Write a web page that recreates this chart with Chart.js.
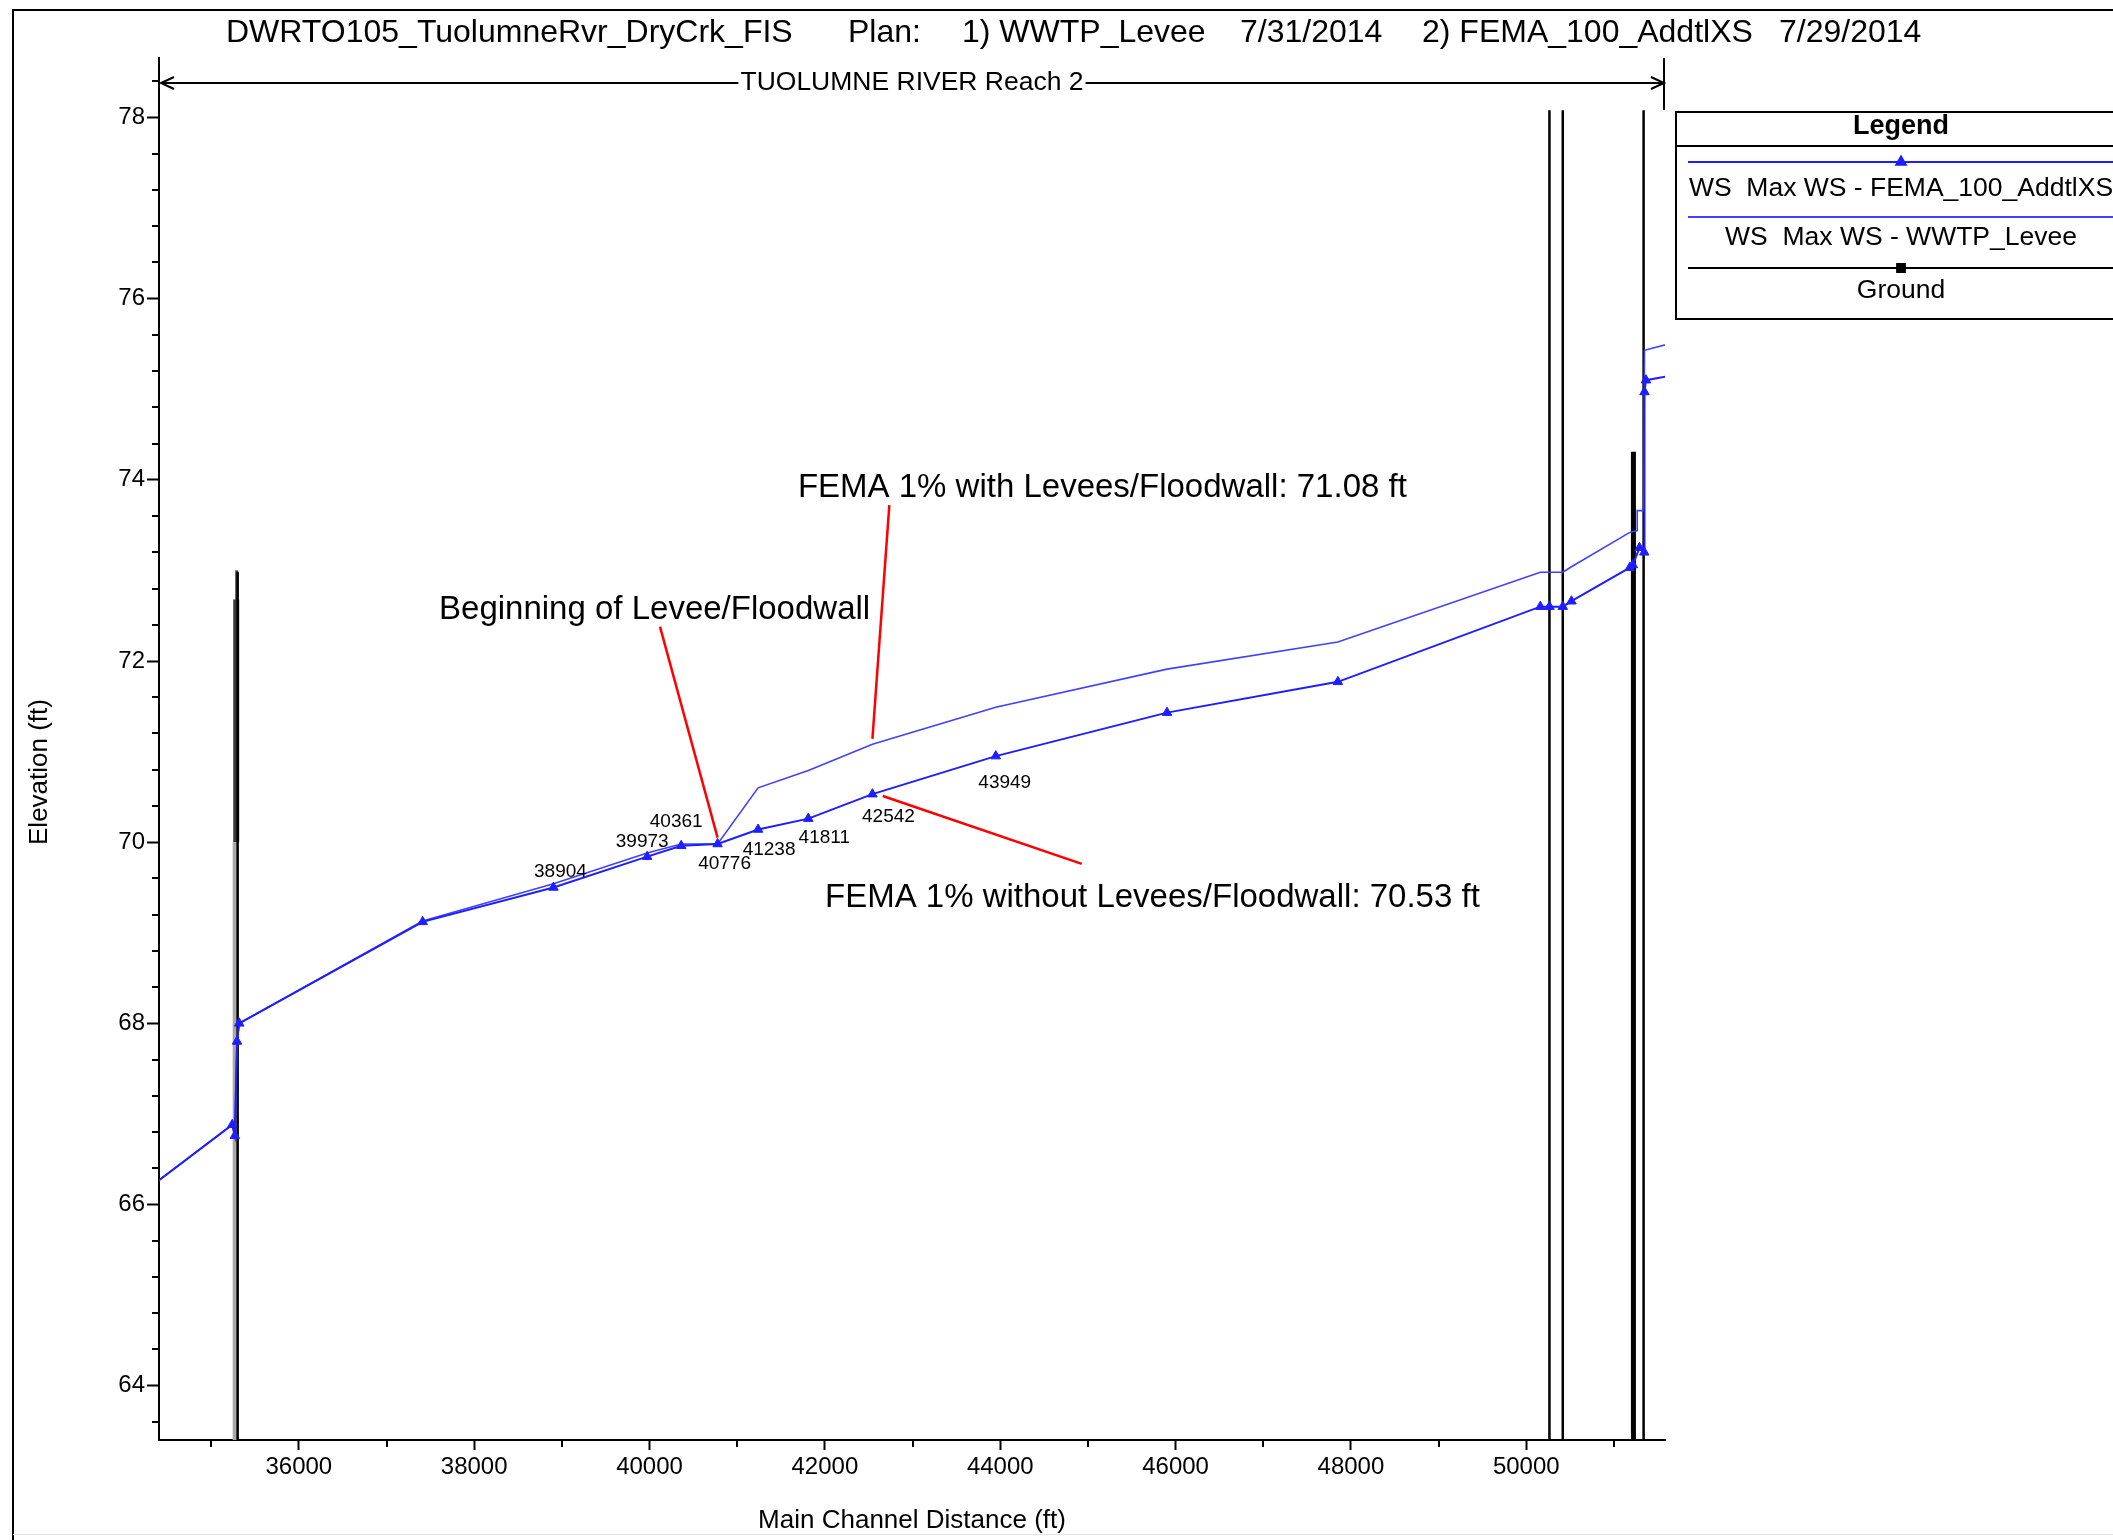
<!DOCTYPE html>
<html>
<head>
<meta charset="utf-8">
<title>DWRTO105 Tuolumne River Reach 2 profile</title>
<script src="https://cdn.jsdelivr.net/npm/chart.js@4.4.1/dist/chart.umd.min.js"></script>
<style>
  html, body { margin: 0; padding: 0; background: #fff; overflow: hidden; }
  #wrap { position: relative; width: 2113px; height: 1540px; }
  #profile { position: absolute; left: 0; top: 0; }
</style>
</head>
<body>
<div id="wrap"><canvas id="profile" width="2113" height="1540"></canvas></div>
<script>
// ---- Profile data (main channel distance in ft, elevation in ft) ----
// Max water surface, plan FEMA_100_AddtlXS (no levee/floodwall)
const fisStation = [34300, 35240, 35270, 35295, 35320, 37412, 38904, 39973, 40361, 40776,
                    41238, 41811, 42542, 43949, 45902, 47851, 50160, 50264, 50416, 50515,
                    51180, 51215, 51291, 51345, 51348, 51365, 51700];
const fisElev    = [66.19, 66.88, 66.76, 67.80, 68.00, 69.12, 69.50, 69.84, 69.96, 69.98,
                    70.14, 70.26, 70.53, 70.95, 71.43, 71.77, 72.60, 72.60, 72.60, 72.66,
                    73.03, 73.06, 73.25, 73.20, 74.97, 75.10, 75.16];

// Max water surface, plan WWTP_Levee (with levee/floodwall)
const leveeStation = [34300, 35240, 35270, 35295, 35320, 37412, 38904, 39973, 40361, 40776,
                      41238, 41811, 42542, 43949, 45902, 47851, 50160, 50264, 50416, 50515,
                      51180, 51265, 51265, 51340, 51348, 51700];
const leveeElev    = [66.19, 66.88, 66.76, 67.80, 68.00, 69.13, 69.54, 69.88, 69.98, 69.98,
                      70.60, 70.79, 71.08, 71.49, 71.91, 72.21, 72.98, 72.98, 72.98, 73.04,
                      73.42, 73.44, 73.66, 73.66, 75.43, 75.52];

// Ground: channel invert sits far below the plotted range; structures rise above it
const groundStation = [35302, 35302, 50264, 50264, 50416, 50416, 51338, 51338];
const groundElev    = [50.0, 72.98, 50.0, 78.08, 50.0, 78.08, 50.0, 78.08];
const pierStation = [51222, 51222];
const pierElev    = [50.0, 74.31];
const bankStation = [35274, 35274];
const bankElev    = [50.0, 70.00];
const crestStation = [35286, 35286];
const crestElev    = [70.00, 72.68];
const tipStation = [35292, 35292];
const tipElev    = [72.48, 73.00];

// Labelled river stations on the FEMA_100_AddtlXS profile
const stationLabels = ['38904', '39973', '40361', '40776', '41238', '41811', '42542', '43949'];

// Axis extents and tick spacing
const xMin = 34405, xMax = 51582;
const yMin = 63.40, yMax = 78.657;
const xTickStep = 1000, yTickStep = 0.4;

const titleParts = ['DWRTO105_TuolumneRvr_DryCrk_FIS', 'Plan:', '1) WWTP_Levee', '7/31/2014',
                    '2) FEMA_100_AddtlXS', '7/29/2014'];
const reachName = 'TUOLUMNE RIVER Reach 2';

// ---- styling / layout ----
const FONT = '"Liberation Sans", Arial, Helvetica, sans-serif';
Chart.defaults.font.family = FONT;
Chart.defaults.color = '#000';

const titleX = [226, 848, 962, 1240, 1422, 1779];
const labelOffsets = [[7, -16], [-5, -15], [-5, -24], [7, 20], [11, 20], [16, 19], [16, 23], [9, 27]];

const at = (xs, v) => xs.indexOf(v);
const callouts = [
  { text: 'Beginning of Levee/Floodwall', textAt: [37599, 72.56],
    from: [40119, 72.38], to: [40776, 70.05] },
  { text: 'FEMA 1% with Levees/Floodwall: ' + leveeElev[at(leveeStation, 42542)].toFixed(2) + ' ft',
    textAt: [41692, 73.91], from: [42735, 73.72], to: [42542, 71.14] },
  { text: 'FEMA 1% without Levees/Floodwall: ' + fisElev[at(fisStation, 42542)].toFixed(2) + ' ft',
    textAt: [42001, 69.39], from: [42660, 70.51], to: [44930, 69.76] }
];

const pairs = (xs, ys) => xs.map((x, i) => ({ x: x, y: ys[i] }));
const spikes = (xs, ys) => {
  const out = [];
  for (let i = 0; i < xs.length; i += 2) {
    out.push({ x: xs[i], y: ys[i] }, { x: xs[i + 1], y: ys[i + 1] }, { x: xs[i + 1], y: null });
  }
  return out;
};
const near = (v, step) => Math.abs(v / step - Math.round(v / step)) < 1e-6;
const isMajorX = v => near(v, 2000);
const isMajorY = v => near(v, 2);

// regular tick positions at whole multiples of the step
const tickValues = (lo, hi, step) => {
  const out = [];
  for (let k = Math.ceil(lo / step - 1e-9); k * step <= hi + 1e-9; k++) {
    out.push({ value: Math.round(k * step * 1000) / 1000 });
  }
  return out;
};

const FIS_BLUE = '#1e1eff';
const LEVEE_BLUE = '#4040ff';

const decor = {
  id: 'profileDecor',
  afterDatasetsDraw(chart) {
    const { ctx } = chart;
    const xs = chart.scales.x, ys = chart.scales.y;
    ctx.save();
    // red callout leaders and their notes
    callouts.forEach(c => {
      ctx.strokeStyle = '#ff0000';
      ctx.lineWidth = 2.5;
      ctx.beginPath();
      ctx.moveTo(xs.getPixelForValue(c.from[0]), ys.getPixelForValue(c.from[1]));
      ctx.lineTo(xs.getPixelForValue(c.to[0]), ys.getPixelForValue(c.to[1]));
      ctx.stroke();
      ctx.fillStyle = '#000';
      ctx.font = '33px ' + FONT;
      ctx.textAlign = 'left';
      ctx.textBaseline = 'middle';
      ctx.fillText(c.text, xs.getPixelForValue(c.textAt[0]), ys.getPixelForValue(c.textAt[1]));
    });
    // river station tags
    ctx.font = '19px ' + FONT;
    ctx.textAlign = 'center';
    ctx.textBaseline = 'middle';
    stationLabels.forEach((s, i) => {
      const st = Number(s);
      const el = fisElev[at(fisStation, st)];
      ctx.fillText(s, xs.getPixelForValue(st) + labelOffsets[i][0], ys.getPixelForValue(el) + labelOffsets[i][1]);
    });
    ctx.restore();
  },
  afterDraw(chart) {
    const { ctx, chartArea: a } = chart;
    const xs = chart.scales.x, ys = chart.scales.y;
    ctx.save();
    ctx.strokeStyle = '#000';
    ctx.fillStyle = '#000';

    // minor ticks
    ctx.lineWidth = 2;
    ctx.beginPath();
    xs.ticks.forEach(t => {
      if (!isMajorX(t.value)) {
        const px = Math.round(xs.getPixelForValue(t.value));
        ctx.moveTo(px, a.bottom); ctx.lineTo(px, a.bottom + 7);
      }
    });
    ys.ticks.forEach(t => {
      if (!isMajorY(t.value)) {
        const py = Math.round(ys.getPixelForValue(t.value));
        ctx.moveTo(a.left - 7, py); ctx.lineTo(a.left, py);
      }
    });
    ctx.stroke();

    // y axis title
    ctx.save();
    ctx.translate(40, 772);
    ctx.rotate(-Math.PI / 2);
    ctx.font = '26px ' + FONT;
    ctx.textAlign = 'center';
    ctx.textBaseline = 'middle';
    ctx.fillText('Elevation (ft)', 0, 0);
    ctx.restore();

    // plot title
    ctx.font = '32px ' + FONT;
    ctx.textAlign = 'left';
    ctx.textBaseline = 'middle';
    titleParts.forEach((t, i) => ctx.fillText(t, titleX[i], 33));

    // reach extent bar
    const ry = 83;
    const rl = a.left + 2, rr = a.right - 1;
    const cx = (a.left + a.right) / 2;
    ctx.font = '26.5px ' + FONT;
    ctx.textAlign = 'center';
    const tw = ctx.measureText(reachName).width;
    ctx.fillText(reachName, cx, ry);
    ctx.lineWidth = 2;
    ctx.beginPath();
    ctx.moveTo(rl, ry); ctx.lineTo(cx - tw / 2 - 2, ry);
    ctx.moveTo(cx + tw / 2 + 2, ry); ctx.lineTo(rr, ry);
    ctx.moveTo(rl + 13, ry - 6); ctx.lineTo(rl, ry); ctx.lineTo(rl + 13, ry + 6);
    ctx.moveTo(rr - 13, ry - 6); ctx.lineTo(rr, ry); ctx.lineTo(rr - 13, ry + 6);
    ctx.moveTo(a.right - 1, a.top); ctx.lineTo(a.right - 1, 110);
    ctx.stroke();

    // legend box
    const lx = 1676, ly = 112, lw = 451, lh = 207, lc = 1901;
    ctx.lineWidth = 2;
    ctx.strokeRect(lx, ly, lw, lh);
    ctx.beginPath(); ctx.moveTo(lx, 146); ctx.lineTo(lx + lw, 146); ctx.stroke();
    ctx.font = 'bold 27px ' + FONT;
    ctx.textAlign = 'center';
    ctx.textBaseline = 'middle';
    ctx.fillText('Legend', lc, 127);
    const rows = [
      { ds: chart.data.datasets[0], lineY: 162, textY: 189, marker: 'triangle' },
      { ds: chart.data.datasets[1], lineY: 217, textY: 238, marker: null },
      { ds: chart.data.datasets[2], lineY: 268, textY: 291, marker: 'rect' }
    ];
    rows.forEach(r => {
      ctx.strokeStyle = r.ds.borderColor;
      ctx.lineWidth = 2;
      ctx.beginPath(); ctx.moveTo(lx + 12, r.lineY); ctx.lineTo(lx + lw - 12, r.lineY); ctx.stroke();
      if (r.marker) {
        Chart.helpers.drawPoint(ctx, { pointStyle: r.marker, radius: 5.5, rotation: 0, borderWidth: 1 }, lc, r.lineY);
        ctx.fillStyle = r.ds.borderColor;
        ctx.fill();
      }
      ctx.fillStyle = '#000';
      ctx.font = '26.5px ' + FONT;
      ctx.fillText(r.ds.label, lc, r.textY);
    });

    // page frame
    ctx.strokeStyle = '#000';
    ctx.lineWidth = 2;
    ctx.beginPath();
    ctx.moveTo(13, 1540); ctx.lineTo(13, 10); ctx.lineTo(2113, 10);
    ctx.stroke();
    ctx.strokeStyle = '#e2e2e2';
    ctx.lineWidth = 1;
    ctx.beginPath(); ctx.moveTo(13, 1534.5); ctx.lineTo(2113, 1534.5); ctx.stroke();
    ctx.restore();
  }
};

const lineDefaults = { tension: 0, pointRadius: 0, pointHoverRadius: 0, pointHitRadius: 0, fill: false, spanGaps: false };

new Chart(document.getElementById('profile'), {
  type: 'line',
  data: {
    datasets: [
      Object.assign({}, lineDefaults, {
        label: 'WS  Max WS - FEMA_100_AddtlXS',
        data: pairs(fisStation, fisElev),
        borderColor: FIS_BLUE, borderWidth: 2,
        pointStyle: 'triangle', pointRadius: 5.5,
        pointBackgroundColor: FIS_BLUE, pointBorderColor: FIS_BLUE, pointBorderWidth: 1
      }),
      Object.assign({}, lineDefaults, {
        label: 'WS  Max WS - WWTP_Levee',
        data: pairs(leveeStation, leveeElev),
        borderColor: LEVEE_BLUE, borderWidth: 1.6
      }),
      Object.assign({}, lineDefaults, {
        label: 'Ground',
        data: spikes(groundStation, groundElev),
        borderColor: '#000', borderWidth: 2.5
      }),
      Object.assign({}, lineDefaults, {
        label: 'Ground (pier)',
        data: pairs(pierStation, pierElev),
        borderColor: '#000', borderWidth: 5
      }),
      Object.assign({}, lineDefaults, {
        label: 'Ground (bank)',
        data: pairs(bankStation, bankElev),
        borderColor: '#a9a9a9', borderWidth: 5
      }),
      Object.assign({}, lineDefaults, {
        label: 'Ground (crest)',
        data: pairs(crestStation, crestElev),
        borderColor: '#383838', borderWidth: 6
      }),
      Object.assign({}, lineDefaults, {
        label: 'Ground (crest tip)',
        data: pairs(tipStation, tipElev),
        borderColor: '#383838', borderWidth: 3
      })
    ]
  },
  options: {
    responsive: false,
    animation: false,
    devicePixelRatio: 1,
    events: [],
    layout: { padding: { top: 58, right: 448, bottom: 0, left: 0 } },
    plugins: { legend: { display: false }, tooltip: { enabled: false }, title: { display: false } },
    scales: {
      x: {
        type: 'linear', position: 'bottom', min: xMin, max: xMax, offset: false,
        afterFit: s => { s.height = 100; },
        afterBuildTicks: s => { s.ticks = tickValues(xMin, xMax, xTickStep); },
        border: { display: true, color: '#000', width: 2 },
        grid: {
          display: true, drawOnChartArea: false, drawTicks: true, tickLength: 10, tickWidth: 2,
          tickColor: c => (c.tick && isMajorX(c.tick.value)) ? '#000' : 'rgba(0,0,0,0)'
        },
        ticks: {
          autoSkip: false, maxRotation: 0, minRotation: 0,
          padding: 3, color: '#000', font: { size: 24 },
          callback: v => isMajorX(v) ? String(v) : ''
        },
        title: { display: true, text: 'Main Channel Distance (ft)', color: '#000',
                 font: { size: 26 }, padding: { top: 0, bottom: 4 } }
      },
      y: {
        type: 'linear', position: 'left', min: yMin, max: yMax,
        afterFit: s => { s.width = 159; },
        afterBuildTicks: s => { s.ticks = tickValues(yMin, yMax, yTickStep); },
        border: { display: true, color: '#000', width: 2 },
        grid: {
          display: true, drawOnChartArea: false, drawTicks: true, tickLength: 12, tickWidth: 2,
          tickColor: c => (c.tick && isMajorY(c.tick.value)) ? '#000' : 'rgba(0,0,0,0)'
        },
        ticks: {
          autoSkip: false,
          padding: 2, color: '#000', font: { size: 24 },
          callback: v => isMajorY(v) ? String(Math.round(v)) : ''
        }
      }
    }
  },
  plugins: [decor]
});
</script>
</body>
</html>
